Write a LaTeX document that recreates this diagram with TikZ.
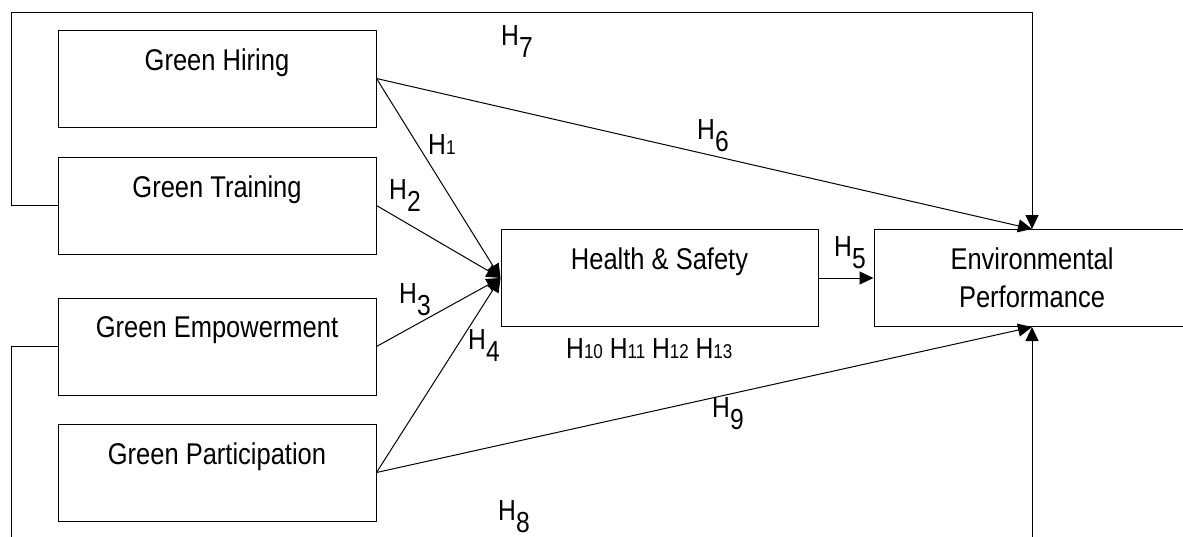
\documentclass[tikz,border=0pt]{standalone}
\usepackage{fontspec}
\setmainfont{Liberation Sans}[FakeStretch=0.85]
\usetikzlibrary{arrows.meta}

\newcommand{\hlow}[1]{H\raisebox{-0.42em}{#1}}
\newcommand{\hsmall}[1]{H{\fontsize{20}{20}\selectfont #1}}

\begin{document}
\begin{tikzpicture}[x=1pt,y=-1pt,
		box/.style={draw,line width=1pt,minimum width=318pt,minimum height=97pt,inner sep=0pt,align=center,font=\fontsize{30}{38}\selectfont},
		hyp/.style={anchor=base west,inner sep=0pt,font=\fontsize{29}{29}\selectfont},
		>={Triangle[length=14pt,width=13pt]}]
	\useasboundingbox (0,0) rectangle (1183,536);
	\clip (0,0) rectangle (1183,536);
	% the boxes
	\node[box] (hiring) at (217,78.5) {Green Hiring\\\mbox{}};
	\node[box] (training) at (217,205.5) {Green Training\\\mbox{}};
	\node[box] (empower) at (217,346.5) {Green Empowerment\\\mbox{}};
	\node[box] (particip) at (217,472.5) {Green Participation\\\mbox{}};
	\node[box,minimum width=317pt] (health) at (659.5,278) {Health \& Safety\\\mbox{}};
	\node[box,minimum width=316pt] (env) at (1032,278) {Environmental\\Performance};
	\coordinate (topleft) at (11,12);
	\coordinate (botleft) at (11,545);
	% the paths
	\draw[->,line width=1pt] (hiring.east) -- (health.west);
	\draw[->,line width=1pt] (training.east) -- (health.west);
	\draw[->,line width=1pt] (empower.east) -- (health.west);
	\draw[->,line width=1pt] (particip.east) -- (health.west);
	\draw[->,line width=1pt] (health.east) -- (env.west);
	\draw[->,line width=1pt] (hiring.east) -- (env.north);
	\draw[->,line width=1pt] (particip.east) -- (env.south);
	\draw[->,line width=1pt] (training.west) -| (topleft) -| (env.north);
	\draw[->,line width=1pt] (empower.west) -| (botleft) -| (env.south);
	% the hypotheses
	\node[hyp] (h1) at (428,154) {\hsmall{1}};
	\node[hyp] (h2) at (389,199) {\hlow{2}};
	\node[hyp] (h3) at (399,303) {\hlow{3}};
	\node[hyp] (h4) at (468,349) {\hlow{4}};
	\node[hyp] (h5) at (834,256) {\hlow{5}};
	\node[hyp] (h6) at (697,139) {\hlow{6}};
	\node[hyp] (h7) at (501,45) {\hlow{7}};
	\node[hyp] (h8) at (498,520) {\hlow{8}};
	\node[hyp] (h9) at (712,417) {\hlow{9}};
	\node[hyp] (hmed) at (566,358) {\hsmall{10} \hsmall{11} \hsmall{12} \hsmall{13}};
\end{tikzpicture}
\end{document}
